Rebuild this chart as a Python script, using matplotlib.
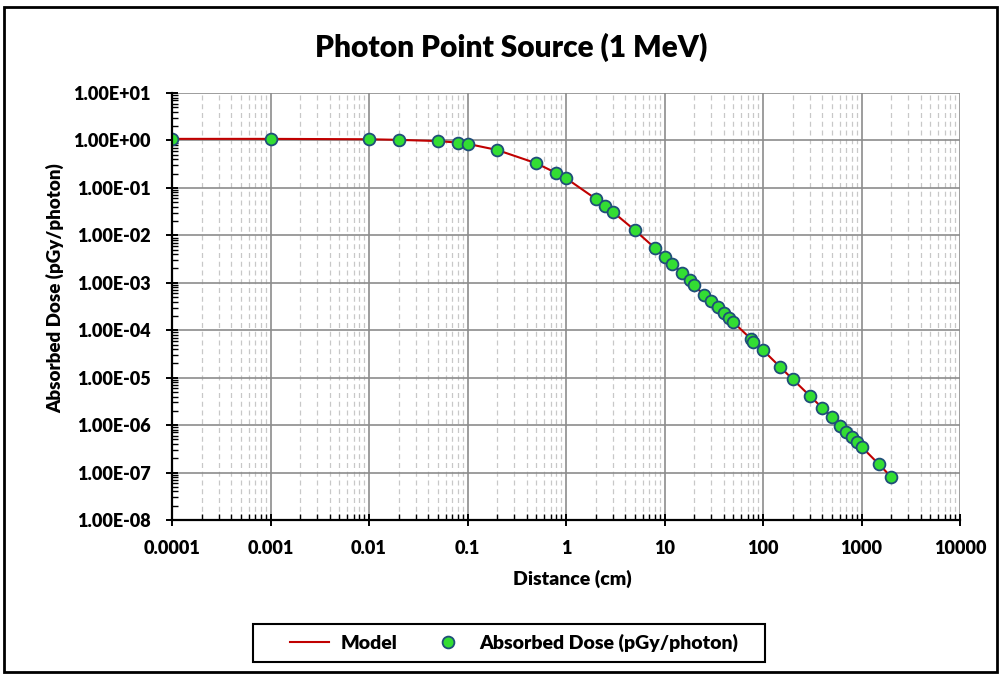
import matplotlib
matplotlib.use('Agg')
import matplotlib.pyplot as plt
from matplotlib.ticker import FixedLocator, LogLocator, NullFormatter
from matplotlib.patches import Rectangle

# distance (cm) and absorbed dose (pGy/photon)
distance = [0.0001, 0.001, 0.01, 0.02, 0.05, 0.08, 0.1, 0.2, 0.5, 0.8, 1,
	2, 2.5, 3, 5, 8, 10, 12, 15, 18, 20, 25, 30, 35, 40, 45, 50,
	75, 80, 100, 150, 200, 300, 400, 500, 600, 700, 800, 900, 1000,
	1500, 2000]
dose = [1.08, 1.08, 1.06, 1.03, 0.97, 0.90, 0.85, 0.63, 0.33, 0.205, 0.16,
	0.059, 0.042, 0.031, 0.0128, 0.0054, 0.0035, 0.0025, 0.0016, 0.00115,
	0.00088, 0.00056, 0.00041, 0.00031, 0.00023, 0.00018, 0.000148,
	6.6e-5, 5.6e-5, 3.8e-5, 1.66e-5, 9.3e-6, 4.1e-6, 2.3e-6, 1.47e-6,
	9.6e-7, 7.0e-7, 5.6e-7, 4.4e-7, 3.5e-7, 1.5e-7, 8.1e-8]

x_ticks = [1e-4, 1e-3, 1e-2, 1e-1, 1, 10, 100, 1000, 10000]
x_tick_labels = ["0.0001", "0.001", "0.01", "0.1", "1", "10", "100", "1000", "10000"]
y_ticks = [10.0 ** e for e in range(-8, 2)]

plt.rcParams['font.family'] = ['Lato', 'DejaVu Sans']
plt.rcParams['font.weight'] = 'heavy'

fig = plt.figure(figsize=(10, 6.74), dpi=100)
ax = fig.add_axes([0.172, 0.2285, 0.788, 0.6335])

ax.plot(distance, dose, color='#c00000', lw=1.5, label='Model', zorder=3)
ax.plot(distance, dose, ls='none', marker='o', ms=8.5, mfc='#33dd33',
	mec='#1f4e79', mew=1.3, label='Absorbed Dose (pGy/photon)', zorder=4)

ax.set_xscale('log')
ax.set_yscale('log')
ax.set_xlim(1e-4, 1e4)
ax.set_ylim(1e-8, 1e1)

ax.xaxis.set_major_locator(FixedLocator(x_ticks))
ax.set_xticklabels(x_tick_labels)
ax.xaxis.set_minor_locator(LogLocator(base=10, subs=range(2, 10), numticks=100))
ax.xaxis.set_minor_formatter(NullFormatter())
ax.yaxis.set_major_locator(FixedLocator(y_ticks))
ax.set_yticklabels(["%.2E" % v for v in y_ticks])
ax.yaxis.set_minor_locator(LogLocator(base=10, subs=range(2, 10), numticks=100))
ax.yaxis.set_minor_formatter(NullFormatter())

ax.grid(which='major', color='#8c8c8c', lw=1.2, zorder=0)
ax.xaxis.grid(which='minor', color='#c8c8c8', lw=0.9, ls=(0, (4, 3)), zorder=0)

for s in ('top', 'right'):
	ax.spines[s].set_visible(False)
for s in ('left', 'bottom'):
	ax.spines[s].set_color('black')
	ax.spines[s].set_linewidth(1.6)
	ax.spines[s].set_zorder(5)

ax.tick_params(which='major', direction='inout', length=9, width=1.4, labelsize=13)
ax.tick_params(which='minor', direction='in', length=4, width=1)
ax.tick_params(axis='y', which='major', pad=11)
ax.tick_params(axis='x', which='major', pad=10)

fig.text(0.511, 0.930, "Photon Point Source (1 MeV)", fontsize=21.5, fontweight='heavy',
	ha='center', va='center')
ax.set_xlabel("Distance (cm)", fontsize=14, fontweight='heavy')
ax.xaxis.set_label_coords(0.508, -0.117)
ax.set_ylabel("Absorbed Dose (pGy/photon)", fontsize=13.5, fontweight='heavy')
ax.yaxis.set_label_coords(-0.137, 0.542)

leg = fig.legend(loc='center', bbox_to_anchor=(0.514, 0.046), ncol=2,
	fontsize=14, frameon=False, handlelength=2.0, handletextpad=0.6,
	columnspacing=1.6, borderpad=0.3)

# legend box as drawn in the reference
fig.patches.append(Rectangle((0.253, 1 - 662 / 674), 0.512, 38 / 674,
	transform=fig.transFigure, fill=False, edgecolor='black', lw=1.5))

fig.patches.append(Rectangle((0.004, 0.003), 0.993, 0.987, transform=fig.transFigure,
	fill=False, edgecolor='black', lw=2))

fig.savefig('out.png', dpi=100)
